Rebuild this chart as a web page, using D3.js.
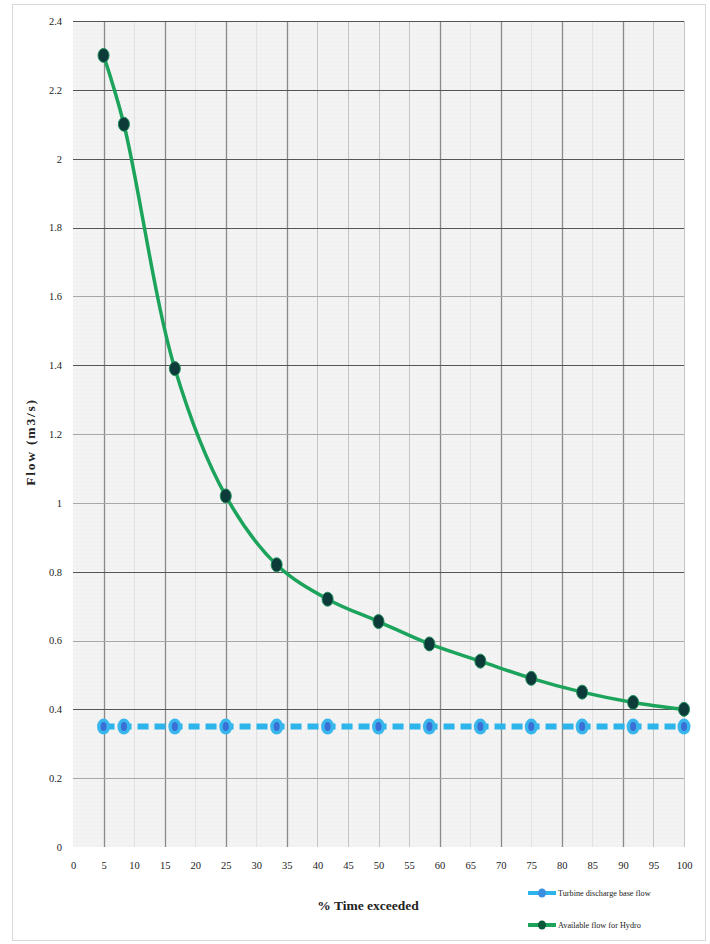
<!DOCTYPE html>
<html>
<head>
<meta charset="utf-8">
<script src="https://cdn.jsdelivr.net/npm/d3@7"></script>
<style>
  html, body { margin: 0; padding: 0; background: #fff; }
  svg { display: block; }
  text { font-family: "Liberation Serif", "DejaVu Serif", serif; fill: #222; }
</style>
</head>
<body>
<svg id="chart" width="710" height="944"></svg>
<script>
// Flow duration data: percentage of time a flow is exceeded
const timeExceeded = [5, 8.33, 16.67, 25, 33.33, 41.67, 50, 58.33, 66.67, 75, 83.33, 91.67, 100];
const availableFlow = [2.30, 2.10, 1.39, 1.02, 0.82, 0.72, 0.655, 0.59, 0.54, 0.49, 0.45, 0.42, 0.40];
const baseFlow = [0.35, 0.35, 0.35, 0.35, 0.35, 0.35, 0.35, 0.35, 0.35, 0.35, 0.35, 0.35, 0.35];

const xTicks = d3.range(0, 101, 5);
const yTicks = [0, 0.2, 0.4, 0.6, 0.8, 1, 1.2, 1.4, 1.6, 1.8, 2, 2.2, 2.4];
const seriesNames = ["Turbine discharge base flow", "Available flow for Hydro"];

const svg = d3.select("#chart");

const x = d3.scaleLinear().domain([0, 100]).range([73, 684]);
const y = d3.scaleLinear().domain([0, 2.4]).range([847, 21]);

// outer chart frame
svg.append("rect")
  .attr("x", 12.5).attr("y", 4.5).attr("width", 693).attr("height", 936)
  .attr("fill", "#fff").attr("stroke", "#d9d9d9");

// plot background with a faint texture
const defs = svg.append("defs");
const pat = defs.append("pattern")
  .attr("id", "bgdots").attr("patternUnits", "userSpaceOnUse")
  .attr("width", 4).attr("height", 4);
pat.append("rect").attr("width", 4).attr("height", 4).attr("fill", "#f3f3f3");
pat.append("rect").attr("x", 1).attr("y", 1).attr("width", 1).attr("height", 1).attr("fill", "#e9e9e9");

svg.append("rect")
  .attr("x", x(0)).attr("y", y(2.4))
  .attr("width", x(100) - x(0)).attr("height", y(0) - y(2.4))
  .attr("fill", "url(#bgdots)");

// vertical gridlines: some heavier, some faint
const vDark = new Set([5, 15, 25, 35, 60, 70, 80, 90]);
const vMid = new Set([40, 45, 50, 55, 95, 100]);
svg.append("g")
  .selectAll("line")
  .data(xTicks.filter(d => d > 0))
  .join("line")
  .attr("x1", d => Math.round(x(d)) + 0.5).attr("x2", d => Math.round(x(d)) + 0.5)
  .attr("y1", y(2.4)).attr("y2", y(0))
  .attr("stroke", d => vDark.has(d) ? "#8a8a8a" : (vMid.has(d) ? "#c4c4c4" : "#e2e2e2"))
  .attr("stroke-width", d => vDark.has(d) ? 1.3 : 1);

// horizontal gridlines
const hDark = new Set([0.4, 0.8, 1.4, 1.8, 2, 2.2, 2.4]);
svg.append("g")
  .selectAll("line")
  .data(yTicks.filter(d => d > 0))
  .join("line")
  .attr("x1", x(0)).attr("x2", x(100))
  .attr("y1", d => Math.round(y(d)) + 0.5).attr("y2", d => Math.round(y(d)) + 0.5)
  .attr("stroke", d => hDark.has(d) ? "#555" : "#a8a8a8")
  .attr("stroke-width", 1);

// axes (labels only, no domain lines)
const xAxis = svg.append("g")
  .attr("transform", `translate(0,${y(0) + 12})`)
  .call(d3.axisBottom(x).tickValues(xTicks).tickSize(0).tickFormat(d3.format("d")));
xAxis.select(".domain").remove();
xAxis.selectAll("text")
  .attr("font-family", "Liberation Serif, serif").attr("font-size", 10.5).attr("fill", "#333");

const yAxis = svg.append("g")
  .attr("transform", `translate(${x(0) - 8},0)`)
  .call(d3.axisLeft(y).tickValues(yTicks).tickSize(0).tickFormat(d => String(+d.toFixed(1))));
yAxis.select(".domain").remove();
yAxis.selectAll("text")
  .attr("font-family", "Liberation Serif, serif").attr("font-size", 10.5).attr("fill", "#333");

// axis titles
svg.append("text")
  .attr("x", 368).attr("y", 910)
  .attr("text-anchor", "middle")
  .attr("font-size", 13.5).attr("font-weight", "bold")
  .text("% Time exceeded");

svg.append("text")
  .attr("transform", "translate(35,442) rotate(-90)")
  .attr("text-anchor", "middle")
  .attr("font-size", 13.5).attr("font-weight", "bold")
  .attr("letter-spacing", 1.8)
  .text("Flow (m3/s)");

// base flow series: dashed light blue
const baseData = timeExceeded.map((t, i) => [t, baseFlow[i]]);
const flowData = timeExceeded.map((t, i) => [t, availableFlow[i]]);

svg.append("path")
  .datum(baseData)
  .attr("fill", "none")
  .attr("stroke", "#2db4ea")
  .attr("stroke-width", 6)
  .attr("stroke-dasharray", "11,6")
  .attr("d", d3.line().x(d => x(d[0])).y(d => y(d[1])));

const baseMarks = svg.append("g").selectAll("g").data(baseData).join("g")
  .attr("transform", d => `translate(${x(d[0])},${y(d[1])})`);
baseMarks.append("ellipse").attr("rx", 6.5).attr("ry", 8).attr("fill", "#39b7ec");
baseMarks.append("ellipse").attr("rx", 3).attr("ry", 4.5).attr("fill", "#3a6fd6");

// available flow series: smoothed green line
svg.append("path")
  .datum(flowData)
  .attr("fill", "none")
  .attr("stroke", "#1da45c")
  .attr("stroke-width", 3.5)
  .attr("d", d3.line().curve(d3.curveCatmullRom.alpha(0.5)).x(d => x(d[0])).y(d => y(d[1])));

svg.append("g").selectAll("ellipse").data(flowData).join("ellipse")
  .attr("cx", d => x(d[0])).attr("cy", d => y(d[1]))
  .attr("rx", 5.5).attr("ry", 7)
  .attr("fill", "#0c3b3a")
  .attr("stroke", "#1e8f5a").attr("stroke-width", 1);

// legend
const legend = svg.append("g");
const legendRows = [
  { name: seriesNames[0], color: "#2db4ea", mark: "#3a8fe0", y: 893 },
  { name: seriesNames[1], color: "#1da45c", mark: "#0c5a3a", y: 925 }
];
const lg = legend.selectAll("g").data(legendRows).join("g")
  .attr("transform", d => `translate(528,${d.y})`);
lg.append("line")
  .attr("x1", 0).attr("x2", 28)
  .attr("stroke", d => d.color).attr("stroke-width", 4);
lg.append("ellipse")
  .attr("cx", 14).attr("rx", 4).attr("ry", 4.5)
  .attr("fill", d => d.mark);
lg.append("text")
  .attr("x", 30).attr("dy", "0.33em")
  .attr("font-size", 8.2)
  .attr("fill", "#333")
  .text(d => d.name);
</script>
</body>
</html>
